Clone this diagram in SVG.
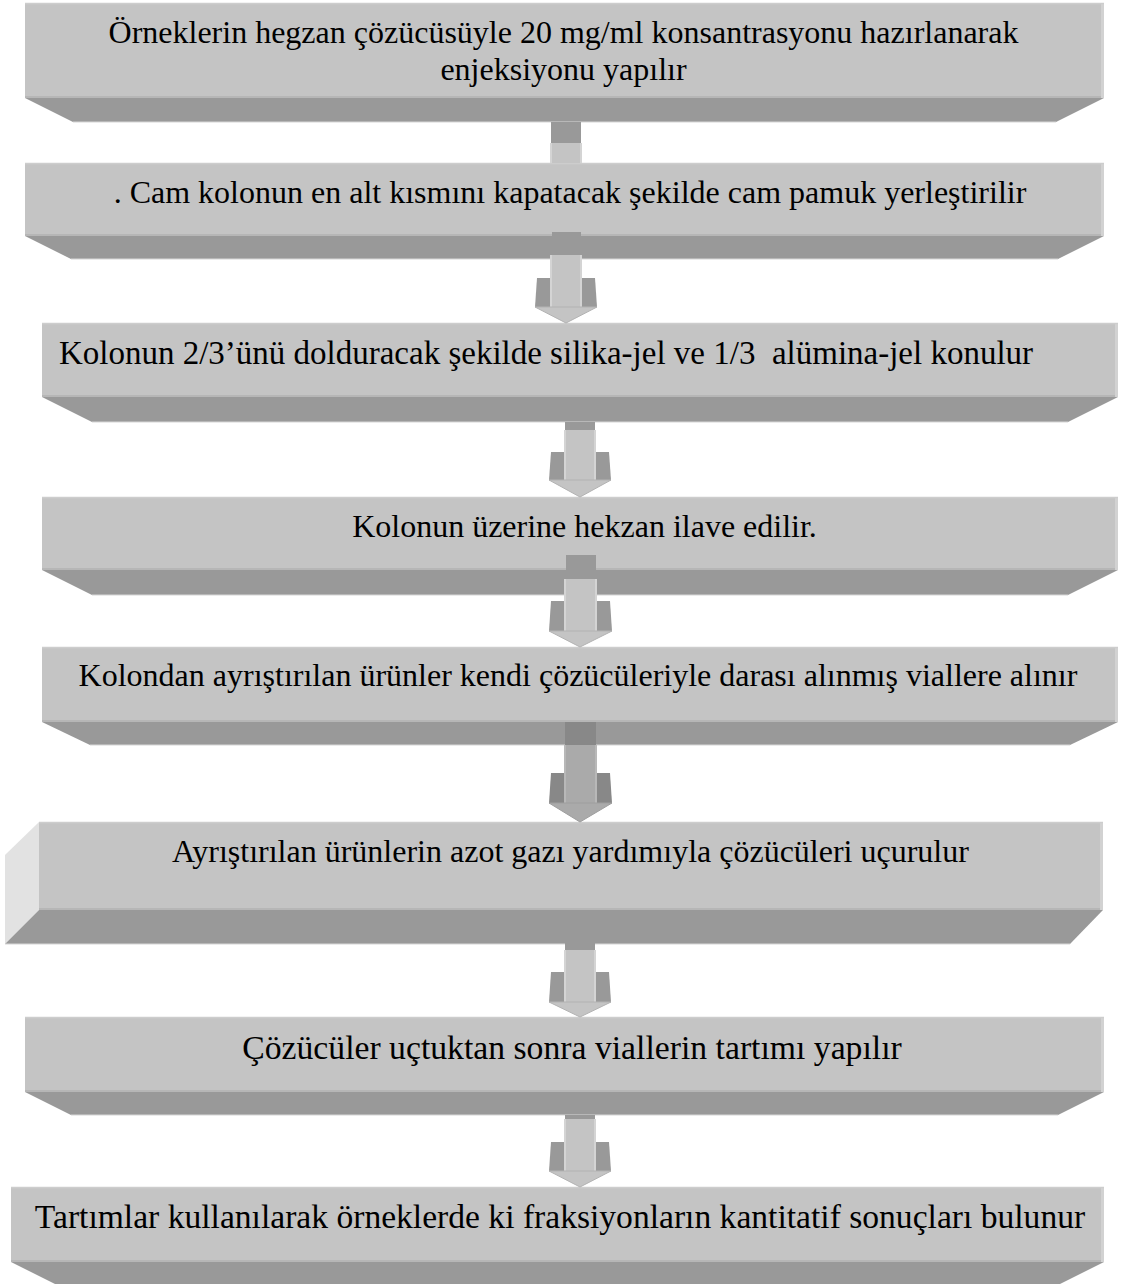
<svg xmlns="http://www.w3.org/2000/svg" width="1126" height="1284" viewBox="0 0 1126 1284">
<style>
.front{fill:#c4c4c4}
.topl{stroke:#cdcdcd;stroke-width:1.5}
.botl{fill:#b6b6b6}
.rgt{fill:#d2d2d2}
.bev{fill:#999999}
.bevl{stroke:#d6d6d6;stroke-width:1}
.side{fill:#e2e2e2}
.t{font-family:"Liberation Serif","Times New Roman",serif;font-size:32px;fill:#000;text-anchor:middle}
.tab{fill:#999999}
.stem{fill:#c4c4c4}
.hl{stroke:#dadada;stroke-width:1.5}
.wing{fill:#999999}
.head{fill:#c4c4c4;stroke:#b2b2b2;stroke-width:1}
.tab2{fill:#888888}
.stem2{fill:#aaaaaa}
.head2{fill:#aaaaaa;stroke:#9e9e9e;stroke-width:1}
</style>
<rect width="1126" height="1284" fill="#ffffff"/>

<g id="node1">
<polygon class="bev" points="25,98 1104,98 1056,122 73,122"/>
<line class="bevl" x1="73" y1="122" x2="1056" y2="122"/>
<rect class="front" x="25" y="3" width="1079" height="95"/>
<rect class="botl" x="25" y="96" width="1079" height="2"/>
<rect class="rgt" x="1101" y="3" width="3" height="95"/>
<line class="topl" x1="25" y1="3.5" x2="1104" y2="3.5"/>
<text class="t" x="563.5" y="43">Örneklerin hegzan çözücüsüyle 20 mg/ml konsantrasyonu hazırlanarak</text>
<text class="t" x="563.5" y="80">enjeksiyonu yapılır</text>
</g>

<g id="node2">
<polygon class="bev" points="25,236 1104,236 1058,259 71,259"/>
<line class="bevl" x1="71" y1="259" x2="1058" y2="259"/>
<rect class="front" x="25" y="163" width="1079" height="73"/>
<rect class="botl" x="25" y="234" width="1079" height="2"/>
<rect class="rgt" x="1101" y="163" width="3" height="73"/>
<line class="topl" x1="25" y1="163.5" x2="1104" y2="163.5"/>
<text class="t" x="570" y="203">. Cam kolonun en alt kısmını kapatacak şekilde cam pamuk yerleştirilir</text>
</g>

<g id="node3">
<polygon class="bev" points="42,397 1118,397 1068,422 92,422"/>
<line class="bevl" x1="92" y1="422" x2="1068" y2="422"/>
<rect class="front" x="42" y="323" width="1076" height="74"/>
<rect class="botl" x="42" y="395" width="1076" height="2"/>
<rect class="rgt" x="1115" y="323" width="3" height="74"/>
<line class="topl" x1="42" y1="323.5" x2="1118" y2="323.5"/>
<text class="t" x="546" y="364" style="white-space:pre;font-size:33px">Kolonun 2/3’ünü dolduracak şekilde silika-jel ve 1/3  alümina-jel konulur</text>
</g>

<g id="node4">
<polygon class="bev" points="42,570 1118,570 1068,595 92,595"/>
<line class="bevl" x1="92" y1="595" x2="1068" y2="595"/>
<rect class="front" x="42" y="497" width="1076" height="73"/>
<rect class="botl" x="42" y="568" width="1076" height="2"/>
<rect class="rgt" x="1115" y="497" width="3" height="73"/>
<line class="topl" x1="42" y1="497.5" x2="1118" y2="497.5"/>
<text class="t" x="584.5" y="537">Kolonun üzerine hekzan ilave edilir.</text>
</g>

<g id="node5">
<polygon class="bev" points="42,722 1118,722 1070,745 90,745"/>
<line class="bevl" x1="90" y1="745" x2="1070" y2="745"/>
<rect class="front" x="42" y="647" width="1076" height="75"/>
<rect class="botl" x="42" y="720" width="1076" height="2"/>
<rect class="rgt" x="1115" y="647" width="3" height="75"/>
<line class="topl" x1="42" y1="647.5" x2="1118" y2="647.5"/>
<text class="t" x="578" y="686">Kolondan ayrıştırılan ürünler kendi çözücüleriyle darası alınmış viallere alınır</text>
</g>

<g id="node6">
<polygon class="side" points="5,855 39,822 39,910 5,944"/>
<polygon class="bev" points="39,910 1103,910 1070,944 5,944"/>
<line class="bevl" x1="5" y1="944" x2="1070" y2="944"/>
<rect class="front" x="39" y="822" width="1064" height="88"/>
<rect class="botl" x="39" y="908" width="1064" height="2"/>
<rect class="rgt" x="1100" y="822" width="3" height="88"/>
<line class="topl" x1="39" y1="822.5" x2="1103" y2="822.5"/>
<text class="t" x="570.5" y="862">Ayrıştırılan ürünlerin azot gazı yardımıyla çözücüleri uçurulur</text>
</g>

<g id="node7">
<polygon class="bev" points="25,1092 1104,1092 1058,1115 71,1115"/>
<line class="bevl" x1="71" y1="1115" x2="1058" y2="1115"/>
<rect class="front" x="25" y="1017" width="1079" height="75"/>
<rect class="botl" x="25" y="1090" width="1079" height="2"/>
<rect class="rgt" x="1101" y="1017" width="3" height="75"/>
<line class="topl" x1="25" y1="1017.5" x2="1104" y2="1017.5"/>
<text class="t" x="572" y="1059" style="font-size:33.7px">Çözücüler uçtuktan sonra viallerin tartımı yapılır</text>
</g>

<g id="node8">
<polygon class="bev" points="11,1262 1104,1262 1060,1284 55,1284"/>
<rect class="front" x="11" y="1187" width="1093" height="75"/>
<rect class="botl" x="11" y="1260" width="1093" height="2"/>
<rect class="rgt" x="1101" y="1187" width="3" height="75"/>
<line class="topl" x1="11" y1="1187.5" x2="1104" y2="1187.5"/>
<text class="t" x="560" y="1228" style="font-size:33.6px">Tartımlar kullanılarak örneklerde ki fraksiyonların kantitatif sonuçları bulunur</text>
</g>

<g id="connectors">
<g id="arrow1">
<rect class="tab" x="551" y="122" width="30" height="21"/>
<rect class="stem" x="550" y="143" width="32" height="20"/>
<line class="hl" x1="551" y1="143" x2="551" y2="163"/>
<line class="hl" x1="581" y1="143" x2="581" y2="163"/>
</g>
<g id="arrow2">
<rect class="tab" x="552" y="232" width="29" height="23"/>
<polygon class="wing" points="535,307 537,278 550,278 550,307"/>
<polygon class="wing" points="597,307 595,278 582,278 582,307"/>
<rect class="stem" x="550" y="255" width="32" height="52"/>
<line class="hl" x1="551" y1="255" x2="551" y2="307"/>
<line class="hl" x1="581" y1="255" x2="581" y2="307"/>
<polygon class="head" points="535,307 597,307 566,323"/>
</g>
<g id="arrow3">
<rect class="tab" x="565" y="422" width="30" height="8"/>
<polygon class="wing" points="549,480 551,452 564,452 564,480"/>
<polygon class="wing" points="611,480 609,452 596,452 596,480"/>
<rect class="stem" x="564" y="430" width="32" height="50"/>
<line class="hl" x1="565" y1="430" x2="565" y2="480"/>
<line class="hl" x1="595" y1="430" x2="595" y2="480"/>
<polygon class="head" points="549,480 611,480 580,497"/>
</g>
<g id="arrow4">
<rect class="tab" x="566" y="555" width="30" height="24"/>
<polygon class="wing" points="549,631 551,601 564,601 564,631"/>
<polygon class="wing" points="612,631 610,601 597,601 597,631"/>
<rect class="stem" x="564" y="579" width="33" height="52"/>
<line class="hl" x1="565" y1="579" x2="565" y2="631"/>
<line class="hl" x1="596" y1="579" x2="596" y2="631"/>
<polygon class="head" points="549,631 612,631 580,647"/>
</g>
<g id="arrow5">
<rect class="tab2" x="565" y="722" width="31" height="23"/>
<polygon class="tab2" points="549,803 551,773 564,773 564,803"/>
<polygon class="tab2" points="612,803 610,773 597,773 597,803"/>
<rect class="stem2" x="564" y="745" width="33" height="58"/>
<line stroke="#bcbcbc" stroke-width="1.5" x1="565" y1="745" x2="565" y2="803"/>
<line stroke="#bcbcbc" stroke-width="1.5" x1="596" y1="745" x2="596" y2="803"/>
<polygon class="head2" points="549,803 612,803 580,822"/>
</g>
<g id="arrow6">
<rect class="tab" x="565" y="943" width="30" height="7"/>
<polygon class="wing" points="549,1002 551,972 565,972 565,1002"/>
<polygon class="wing" points="611,1002 609,972 595,972 595,1002"/>
<rect class="stem" x="564" y="950" width="32" height="52"/>
<line class="hl" x1="565" y1="950" x2="565" y2="1002"/>
<line class="hl" x1="595" y1="950" x2="595" y2="1002"/>
<polygon class="head" points="549,1002 611,1002 580,1017"/>
</g>
<g id="arrow7">
<rect class="tab" x="565" y="1115" width="30" height="4"/>
<polygon class="wing" points="549,1171 551,1142 565,1142 565,1171"/>
<polygon class="wing" points="611,1171 609,1142 595,1142 595,1171"/>
<rect class="stem" x="564" y="1119" width="32" height="52"/>
<line class="hl" x1="565" y1="1119" x2="565" y2="1171"/>
<line class="hl" x1="595" y1="1119" x2="595" y2="1171"/>
<polygon class="head" points="549,1171 611,1171 580,1187"/>
</g>
</g>
</svg>
